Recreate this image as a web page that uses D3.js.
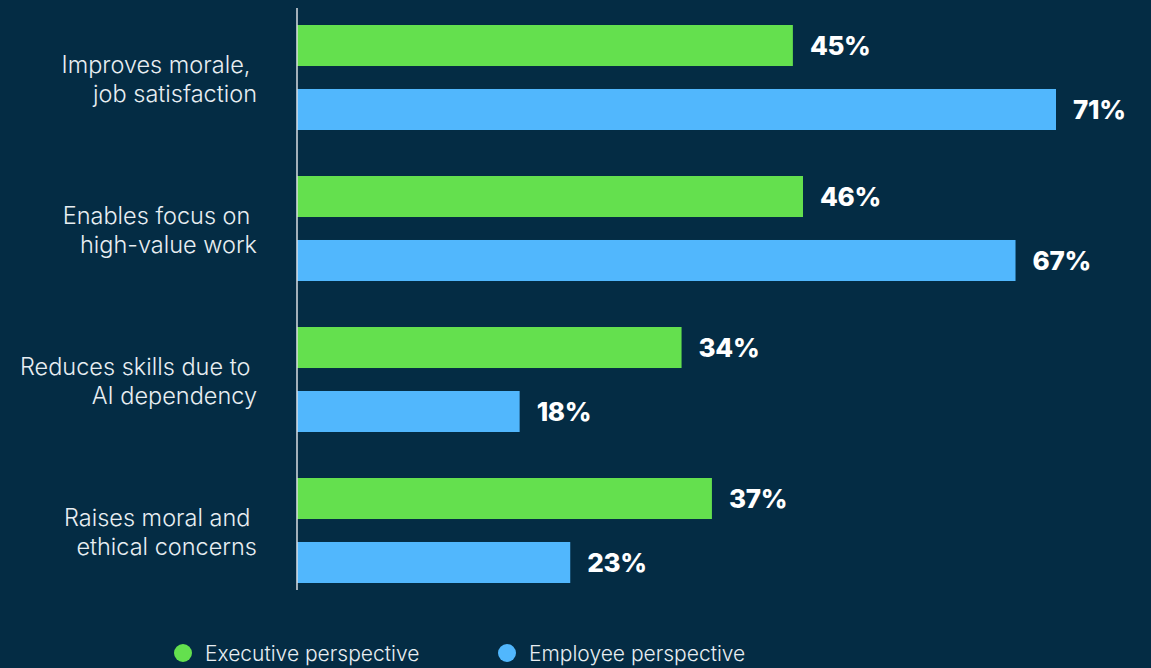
<!DOCTYPE html>
<html>
<head>
<meta charset="utf-8">
<script src="https://cdn.jsdelivr.net/npm/d3@7"></script>
<style>
  html, body { margin: 0; padding: 0; background: #042c44; }
  svg { display: block; }
</style>
</head>
<body>
<svg id="chart" width="1151" height="668"></svg>
<script>
// Categories (each split over two lines) and the two survey series
const categories = [
  "Improves morale, |job satisfaction",
  "Enables focus on |high-value work",
  "Reduces skills due to |AI dependency",
  "Raises moral and |ethical concerns"
];
const seriesNames = ["Executive perspective", "Employee perspective"];
const executiveValues = [45, 46, 34, 37];
const employeeValues = [71, 67, 18, 23];
const seriesColors = ["#64e04e", "#51b7fd"];

const W = 1151, H = 668;
const svg = d3.select("#chart");
svg.append("rect").attr("width", W).attr("height", H).attr("fill", "#042c44");

const rows = categories.map((c, i) => ({
  category: c,
  values: [
    { series: seriesNames[0], value: executiveValues[i] },
    { series: seriesNames[1], value: employeeValues[i] }
  ]
}));

const axisX = 297;
const x = d3.scaleLinear().domain([-4, 71]).range([axisX, 1056]);

const y0 = d3.scaleBand()
  .domain(categories)
  .range([2, 606])
  .paddingInner(0.3046)
  .paddingOuter(0.1523);

const y1 = d3.scaleBand()
  .domain(seriesNames)
  .range([0, y0.bandwidth()])
  .paddingInner(0.359)
  .paddingOuter(0);

const color = d3.scaleOrdinal().domain(seriesNames).range(seriesColors);

const groups = svg.append("g").selectAll("g")
  .data(rows)
  .join("g")
  .attr("transform", d => `translate(0,${y0(d.category)})`);

groups.selectAll("rect")
  .data(d => d.values)
  .join("rect")
  .attr("x", axisX)
  .attr("y", d => y1(d.series))
  .attr("width", d => x(d.value) - axisX)
  .attr("height", y1.bandwidth())
  .attr("fill", d => color(d.series));

groups.selectAll("text.value")
  .data(d => d.values)
  .join("text")
  .attr("class", "value")
  .attr("x", d => x(d.value) + 17)
  .attr("y", d => y1(d.series) + y1.bandwidth() / 2)
  .attr("dy", "0.36em")
  .attr("fill", "#ffffff")
  .style("font-family", "Inter, sans-serif")
  .style("font-weight", 800)
  .style("font-size", "26px")
  .style("letter-spacing", "-0.3px")
  .text(d => d.value + "%");

// Category labels, right aligned against the axis
const labels = groups.append("text")
  .attr("text-anchor", "end")
  .attr("fill", "#e8eef2")
  .style("font-family", "Inter, sans-serif")
  .style("font-weight", 300)
  .style("font-size", "23.5px")
  .style("white-space", "pre");

labels.selectAll("tspan")
  .data(d => d.category.split("|"))
  .join("tspan")
  .attr("x", 257)
  .attr("y", (d, i) => y0.bandwidth() / 2 - 4.5 + i * 29)
  .text(d => d);

// Vertical baseline
svg.append("line")
  .attr("x1", axisX).attr("x2", axisX)
  .attr("y1", 8).attr("y2", 590)
  .attr("stroke", "#d8dde2")
  .attr("stroke-width", 1.5);

// Legend
const legendX = [183, 507];
const legend = svg.append("g").selectAll("g")
  .data(seriesNames)
  .join("g")
  .attr("transform", (d, i) => `translate(${legendX[i]},653)`);

legend.append("circle")
  .attr("r", 9)
  .attr("fill", d => color(d));

legend.append("text")
  .attr("x", 22)
  .attr("dy", "0.4em")
  .attr("fill", "#e8eef2")
  .style("font-family", "Inter, sans-serif")
  .style("font-weight", 300)
  .style("font-size", "21px")
  .text(d => d);
</script>
</body>
</html>
